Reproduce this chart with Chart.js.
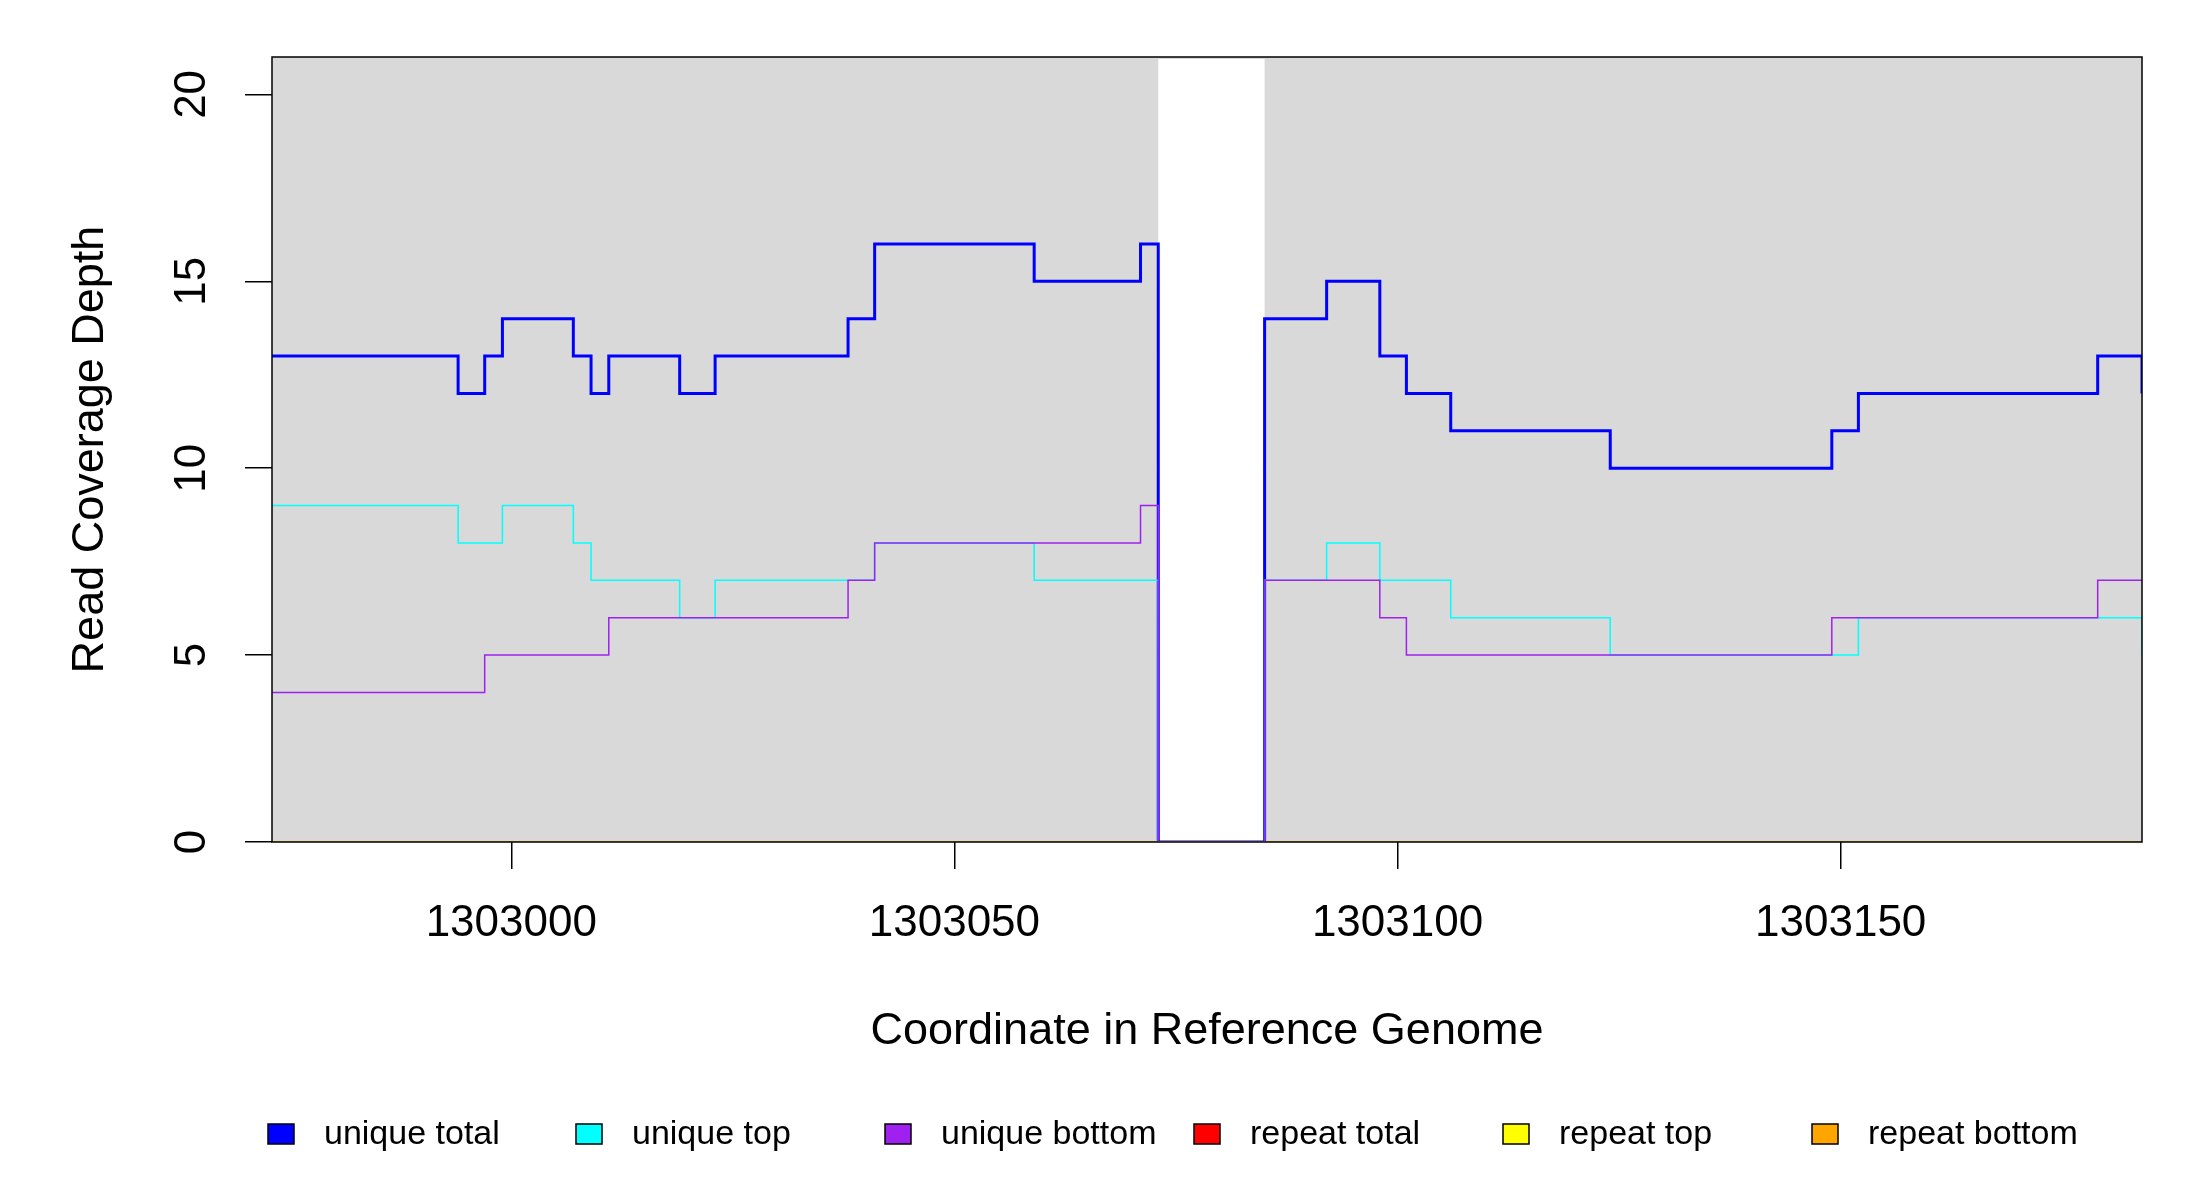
<!DOCTYPE html>
<html><head><meta charset="utf-8">
<script src="https://cdn.jsdelivr.net/npm/chart.js@4"></script>
<style>html,body{margin:0;padding:0;background:#fff}#w{width:2200px;height:1200px}</style>
</head><body><div id="w"><canvas id="c"></canvas></div>
<script>
const totalX=[1302973,1302994,1302997,1302999,1303007,1303009,1303011,1303019,1303023,1303038,1303041,1303059,1303071,1303073,1303085,1303092,1303098,1303101,1303106,1303124,1303149,1303152,1303179,1303184];
const totalY=[13,12,13,14,13,12,13,12,13,14,16,15,16,0,14,15,13,12,11,10,11,12,13,12];
const topX=[1302973,1302994,1302999,1303007,1303009,1303019,1303023,1303041,1303059,1303073,1303085,1303092,1303098,1303106,1303124,1303152,1303184];
const topY=[9,8,9,8,7,6,7,8,7,0,7,8,7,6,5,6,5];
const botX=[1302973,1302997,1303011,1303038,1303041,1303071,1303073,1303085,1303098,1303101,1303149,1303179,1303184];
const botY=[4,5,6,7,8,9,0,7,6,5,6,7,7];
const repX=[1302973,1303184];
const repY=[0,0];
const xTicks=[1303000,1303050,1303100,1303150];
const yTicks=[0,5,10,15,20];
const gap=[1303073,1303085];
const names=['unique total','unique top','unique bottom','repeat total','repeat top','repeat bottom'];
const colors=['#0000ff','#00ffff','#a020f0','#ff0000','#ffff00','#ffa500'];
const pts=(xs,ys)=>xs.map((x,i)=>({x,y:ys[i]}));
const series=[pts(totalX,totalY),pts(topX,topY),pts(botX,botY),pts(repX,repY),pts(repX,repY),pts(repX,repY)];
const F='"Liberation Sans", Arial, sans-serif';
const deco={id:'deco',
 beforeDatasetsDraw(ch){const {ctx,chartArea:a,scales:{x}}=ch;ctx.save();ctx.fillStyle='#d9d9d9';
  ctx.fillRect(a.left,a.top,a.right-a.left,a.bottom-a.top);ctx.fillStyle='#fff';
  const g0=x.getPixelForValue(gap[0]),g1=x.getPixelForValue(gap[1]);ctx.fillRect(g0,a.top+2,g1-g0,a.bottom-a.top-2);ctx.restore();},
 afterDraw(ch){const {ctx,chartArea:a,scales:{y}}=ch;ctx.save();ctx.strokeStyle='#000';ctx.lineWidth=1.5;
  ctx.strokeRect(a.left,a.top,a.right-a.left,a.bottom-a.top);
  ctx.fillStyle='#000';ctx.font='44px '+F;ctx.textAlign='center';ctx.textBaseline='middle';
  yTicks.forEach(v=>{ctx.save();ctx.translate(193,y.getPixelForValue(v));ctx.rotate(-Math.PI/2);ctx.fillText(String(v),0,0);ctx.restore();});
  const lx=[281,589,898,1207,1516,1825];ctx.font='34px '+F;ctx.textAlign='left';
  names.forEach((n,i)=>{ctx.fillStyle=colors[i];ctx.fillRect(lx[i]-13,1124,26,20);ctx.strokeStyle='#000';ctx.lineWidth=1.5;ctx.strokeRect(lx[i]-13,1124,26,20);
   ctx.fillStyle='#000';ctx.fillText(n,lx[i]+43,1135);});
  ctx.restore();}};
new Chart(document.getElementById('c'),{type:'line',
 data:{datasets:series.map((d,i)=>({label:names[i],data:d,borderColor:colors[i],backgroundColor:colors[i],borderWidth:i==0?3:1.5,pointRadius:0,stepped:'before',fill:false,order:6-i}))},
 options:{responsive:true,maintainAspectRatio:false,animation:false,
  layout:{padding:{top:57,right:58,left:0,bottom:0}},
  plugins:{legend:{display:false},tooltip:{enabled:false}},
  scales:{
   x:{type:'linear',min:1302973,max:1303184,
    afterBuildTicks(s){s.ticks=xTicks.map(v=>({value:v}));},
    afterFit(s){s.height=358;},
    grid:{drawOnChartArea:false,drawTicks:true,tickLength:27,color:'#000',lineWidth:1.5},border:{display:false},
    ticks:{color:'#000',font:{family:F,size:44},padding:28,maxRotation:0,callback:v=>String(v)},
    title:{display:true,text:'Coordinate in Reference Genome',color:'#000',font:{family:F,size:45},padding:{top:0,bottom:141}}},
   y:{min:0,max:21,
    afterBuildTicks(s){s.ticks=yTicks.map(v=>({value:v}));},
    afterFit(s){s.width=272;},
    grid:{drawOnChartArea:false,drawTicks:true,tickLength:27,color:'#000',lineWidth:1.5},border:{display:false},
    ticks:{color:'rgba(0,0,0,0)',font:{family:F,size:40},padding:10},
    title:{display:true,text:'Read Coverage Depth',color:'#000',font:{family:F,size:45},padding:{top:64,bottom:0}}}}},
 plugins:[deco]});
</script></body></html>
